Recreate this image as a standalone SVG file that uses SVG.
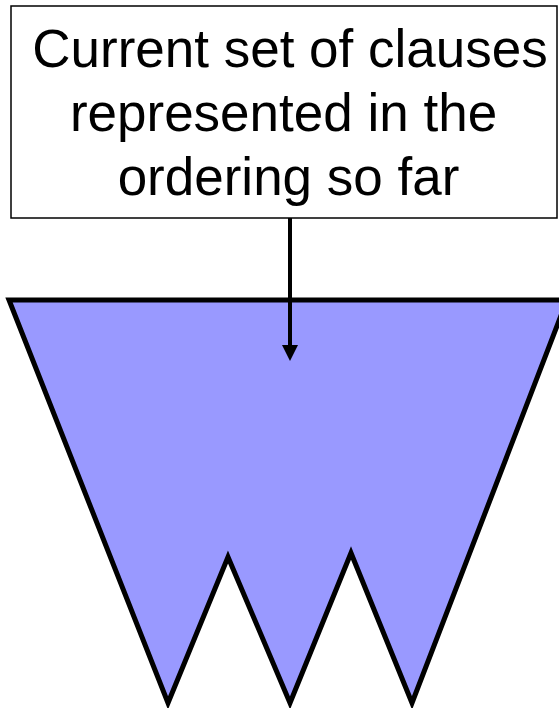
<svg xmlns="http://www.w3.org/2000/svg" width="559" height="708" viewBox="0 0 559 708">
<style>
.lbl{font-family:"Liberation Sans",Arial,sans-serif;font-size:53px;fill:#000;text-anchor:middle}
</style>
<rect width="559" height="708" fill="#fff"/>
<g id="note">
<rect x="11" y="6" width="546" height="212" fill="#fff" stroke="#000" stroke-width="1.5"/>
<text class="lbl" x="290" y="67">Current set of clauses</text>
<text class="lbl" x="283.5" y="131">represented in the</text>
<text class="lbl" x="288.5" y="195">ordering so far</text>
</g>
<g id="ordering">
<polygon points="9,300 567,300 412,703 351,553 290,703 228,557 168,703" fill="#9999FF" stroke="#000" stroke-width="5" stroke-linejoin="miter"/>
</g>
<g id="connectors">
<line x1="290" y1="218" x2="290" y2="347" stroke="#000" stroke-width="4"/>
<polygon points="282,345 298,345 290,361" fill="#000"/>
</g>
</svg>
